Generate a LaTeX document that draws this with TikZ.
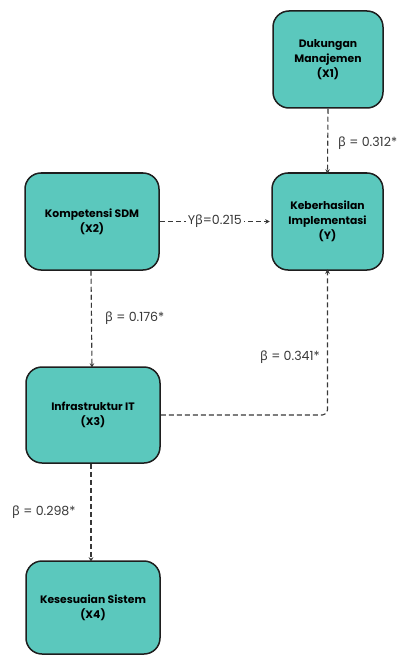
\documentclass[tikz,border=0pt]{standalone}
\usepackage{fontspec}
\setmainfont{Poppins}
\newfontfamily\grk{Noto Sans}
\usetikzlibrary{arrows.meta}
\definecolor{tealfill}{HTML}{5BC8BD}
\definecolor{boxedge}{HTML}{1E1E1E}
\definecolor{dline}{HTML}{383838}
\newcommand{\bsym}{{\grk β}}
\begin{document}
\begin{tikzpicture}[x=1pt,y=-1pt,
  box/.style={draw=boxedge, line width=1.5pt, fill=tealfill, rounded corners=16pt, align=center,
    font=\fontsize{10.8}{15}\selectfont\bfseries, inner sep=0pt},
  link/.style={draw=dline, line width=1.1pt, dash pattern=on 5pt off 3pt, -{Stealth[length=4.5pt,width=4.5pt]}},
  lbl/.style={font=\fontsize{12.6}{14}\selectfont, text=dline, inner sep=0pt}]
\useasboundingbox (0,0) rectangle (400,655);
\node[box, minimum width=110pt, minimum height=97pt] (x1) at (328,59.5) {Dukungan\\Manajemen\\(X1)};
\node[box, minimum width=111pt, minimum height=97pt] (y) at (327.5,221.5) {Keberhasilan\\Implementasi\\(Y)};
\node[box, minimum width=134pt, minimum height=97pt] (x2) at (92,221.5) {Kompetensi SDM\\(X2)};
\node[box, minimum width=134pt, minimum height=96pt] (x3) at (93,415) {Infrastruktur IT\\(X3)};
\node[box, minimum width=134pt, minimum height=93pt] (x4) at (93,607.5) {Kesesuaian Sistem\\(X4)};

\draw[link] (x1.south) -- ([yshift=-1.5pt]y.north);
\draw[link] (x2.east) -- node[lbl, fill=white, inner xsep=2pt, inner ysep=2pt] (lb) {Y\bsym=0.215} ([xshift=-1.5pt]y.west);
\draw[link] ([xshift=-1pt]x2.south) -- ([xshift=-1pt,yshift=-1.5pt]x3.north);
\draw[link] ([xshift=-2pt]x3.south) -- ([xshift=-2pt,yshift=-1.5pt]x4.north);
\draw[link, rounded corners=5pt] (x3.east) -- (y.south |- x3.east) -- ([yshift=1.5pt]y.south);

\node[lbl, anchor=west] (l1) at (338,143) {\bsym{} = 0.312*};
\node[lbl, anchor=west] (l2) at (105,318) {\bsym{} = 0.176*};
\node[lbl, anchor=east] (l3) at (320,357) {\bsym{} = 0.341*};
\node[lbl, anchor=west] (l4) at (12,512) {\bsym{} = 0.298*};
\end{tikzpicture}
\end{document}
